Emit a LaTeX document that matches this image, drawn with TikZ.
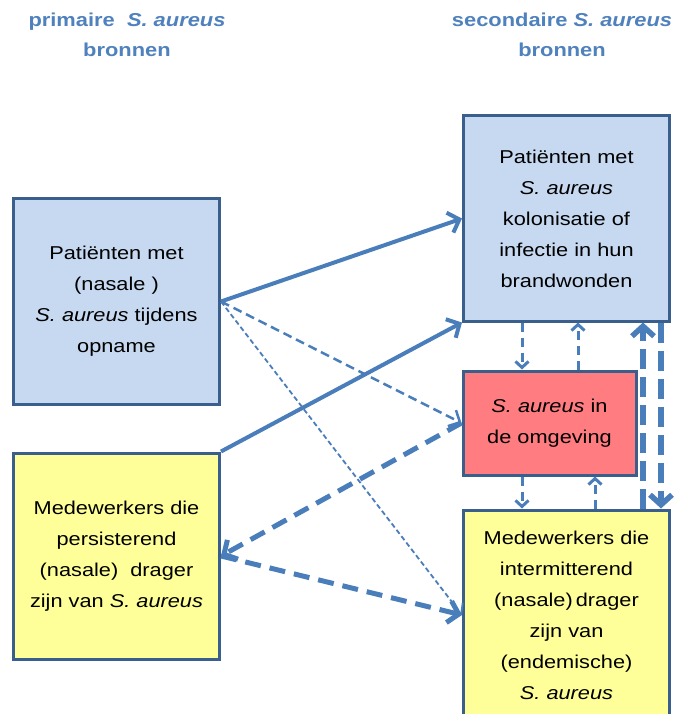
\documentclass[tikz,border=0pt]{standalone}
\usepackage{fontspec}
\setmainfont{Liberation Sans}[FakeStretch=1.17]
\usetikzlibrary{arrows.meta}
\definecolor{boxline}{HTML}{3A5F8C}
\definecolor{pijl}{HTML}{4A7EBB}
\definecolor{titel}{HTML}{4F81BD}
\definecolor{lichtblauw}{HTML}{C6D9F1}
\definecolor{lichtgeel}{HTML}{FFFF99}
\definecolor{zalm}{HTML}{FF7C80}
\tikzset{
  bron/.style={draw=boxline, line width=3pt, align=center, inner sep=0pt,
    minimum width=206pt, minimum height=206pt,
    font=\fontsize{18.6}{31}\selectfont},
  kop/.style={align=center, text=titel, font=\fontsize{18.7}{30}\selectfont\bfseries},
  pijlbasis/.style={draw=pijl, line cap=butt},
  vol/.style={pijlbasis, line width=4pt, -{Straight Barb[length=10pt,width=21pt]}},
  streep/.style={pijlbasis, line width=2.5pt, dash pattern=on 9pt off 5pt,
    -{Straight Barb[length=9pt,width=18pt]}},
  fijn/.style={pijlbasis, line width=1.8pt, dash pattern=on 5pt off 3pt,
    -{Straight Barb[length=8pt,width=16pt]}},
  dik/.style={pijlbasis, line width=5pt, dash pattern=on 16pt off 9pt,
    -{Straight Barb[length=10pt,width=22pt]}},
  kort/.style={pijlbasis, line width=3pt, dash pattern=on 9pt off 6pt,
    -{Straight Barb[length=6pt,width=13pt]}},
  kortdik/.style={pijlbasis, line width=5.5pt, dash pattern=on 20pt off 8pt,
    -{Straight Barb[length=10pt,width=22pt]}}
}

\begin{document}
\begin{tikzpicture}[x=1pt,y=-1pt]
    \useasboundingbox (0,0) rectangle (682,714);
    \node[kop] (kopprim) at (127,35) {primaire\ \ \textit{S. aureus}\\bronnen};
    \node[kop] (kopsec) at (562,35) {secondaire \textit{S. aureus}\\bronnen};
    \node[bron, fill=lichtblauw] (patprim) at (116.5,301.5)
        {Patiënten met\\(nasale )\\\textit{S. aureus} tijdens\\opname};
    \node[bron, fill=lichtgeel] (medpers) at (116.5,556)
        {Medewerkers die\\persisterend\\(nasale)\ \ drager\\zijn van \textit{S. aureus}};
    \node[bron, fill=lichtblauw, minimum height=205pt] (patsec) at (566.5,218.5)
        {Patiënten met\\\textit{S. aureus}\\kolonisatie of\\infectie in hun\\brandwonden};
    \node[bron, fill=zalm, minimum width=173pt, minimum height=104pt] (omgeving) at (549.5,423)
        {\textit{S. aureus} in\\de omgeving};
    \node[bron, fill=lichtgeel, minimum height=210pt] (medint) at (566.5,615)
        {Medewerkers die\\intermitterend\\(nasale)\,drager\\zijn van\\(endemische)\\\textit{S. aureus}};
    \draw[vol] (patprim.east) -- (patsec.west);
    \draw[vol] (medpers.north east) -- (patsec.south west);
    \draw[streep] (patprim.east) -- (omgeving.west);
    \draw[fijn] (patprim.east) -- (medint.west);
    \draw[dik] (omgeving.west) -- (medpers.east);
    \draw[dik] (medpers.east) -- (medint.west);
    \draw[kort] (522,0 |- patsec.south) -- (522,0 |- omgeving.north);
    \draw[kort] (578,0 |- omgeving.north) -- (578,0 |- patsec.south);
    \draw[kort] (522,0 |- omgeving.south) -- (522,0 |- medint.north);
    \draw[kort] (595,0 |- medint.north) -- (595,0 |- omgeving.south);
    \draw[kortdik] (643,0 |- medint.north) -- (643,0 |- patsec.south);
    \draw[kortdik] (661,0 |- patsec.south) -- (661,0 |- medint.north);
\end{tikzpicture}
\end{document}
